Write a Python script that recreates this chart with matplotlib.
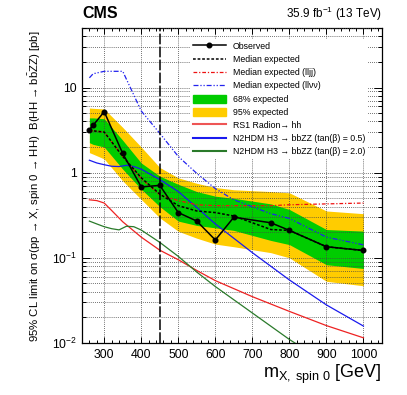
import numpy as np
import matplotlib
matplotlib.use('Agg')
import matplotlib.pyplot as plt
from matplotlib.ticker import FixedLocator, FuncFormatter, MultipleLocator
from matplotlib.patches import Patch
from matplotlib.lines import Line2D

plt.rcParams['font.family'] = ['Liberation Sans', 'DejaVu Sans']
plt.rcParams['mathtext.fontset'] = 'custom'
plt.rcParams['mathtext.rm'] = 'Liberation Sans'
plt.rcParams['mathtext.it'] = 'Liberation Sans:italic'

# limits (pb) vs resonance mass
mass = [260, 270, 300, 350, 400, 450, 500, 550, 600, 650, 750, 800, 900, 1000]
observed = [3.2, 3.6, 5.2, 1.68, 0.68, 0.71, 0.34, 0.27, 0.162, 0.30, 0.258, 0.21, 0.135, 0.122]
expected = [3.1, 3.1, 3.0, 1.55, 0.87, 0.56, 0.41, 0.355, 0.34, 0.31, 0.215, 0.21, 0.135, 0.122]
exp68_up = [4.4, 4.4, 4.3, 2.4, 1.3, 0.91, 0.73, 0.6, 0.53, 0.5, 0.43, 0.37, 0.215, 0.206]
exp68_dn = [2.25, 2.15, 2.0, 1.1, 0.64, 0.40, 0.27, 0.24, 0.225, 0.21, 0.16, 0.143, 0.083, 0.075]
exp95_up = [5.75, 5.7, 5.6, 3.4, 2.0, 1.15, 0.87, 0.75, 0.67, 0.63, 0.6, 0.58, 0.355, 0.33]
exp95_dn = [1.72, 1.65, 1.45, 0.8, 0.485, 0.295, 0.205, 0.17, 0.145, 0.135, 0.115, 0.10, 0.053, 0.047]
exp_lljj = [3.1, 3.1, 3.0, 1.55, 0.85, 0.55, 0.47, 0.42, 0.41, 0.41, 0.41, 0.42, 0.43, 0.44]
exp_llvv = [13, 14.5, 15.5, 15.5, 5.3, 2.9, 1.55, 0.98, 0.65, 0.48, 0.33, 0.29, 0.175, 0.142]

# theory predictions
radion_mass = [260, 280, 300, 320, 350, 400, 450, 500, 550, 600, 700, 800, 900, 1000]
radion_xs = [0.48, 0.47, 0.44, 0.36, 0.265, 0.175, 0.123, 0.095, 0.071, 0.054, 0.035, 0.0235, 0.016, 0.0115]
n2hdm_mass = [260, 280, 300, 320, 340, 360, 380, 400, 450, 500, 550, 600, 700, 800, 900, 1000]
n2hdm_05 = [1.4, 1.3, 1.24, 1.19, 1.18, 1.22, 1.18, 1.1, 0.83, 0.6, 0.39, 0.25, 0.115, 0.055, 0.028, 0.0158]
n2hdm_20 = [0.27, 0.25, 0.232, 0.22, 0.213, 0.235, 0.232, 0.212, 0.152, 0.104, 0.068, 0.046, 0.0225, 0.011, 0.0058, 0.0032]

yellow = '#ffcc00'
green = '#00cc00'

fig = plt.figure(figsize=(4.07, 3.95), dpi=100)
ax = fig.add_axes([82/407, 52/395, 300/407, 315/395])

ax.fill_between(mass, exp95_dn, exp95_up, color=yellow, lw=0, zorder=1)
ax.fill_between(mass, exp68_dn, exp68_up, color=green, lw=0, zorder=1.1)

ax.plot(radion_mass, radion_xs, color='#ee2222', lw=0.9, zorder=3)
ax.plot(n2hdm_mass, n2hdm_05, color='#1a1aee', lw=0.9, zorder=3)
ax.plot(n2hdm_mass, n2hdm_20, color='#2a7a2a', lw=0.9, zorder=3)
ax.plot(mass, exp_lljj, color='#ee1111', lw=0.9, dashes=(3, 1.5, 1, 1.5), zorder=3)
ax.plot(mass, exp_llvv, color='#2222ee', lw=0.9, dashes=(4, 1.5, 1, 1.5, 1, 1.5), zorder=3)
ax.plot(mass, expected, color='black', lw=1.1, dashes=(1.8, 1.2), zorder=3.2)
ax.plot(mass, observed, color='black', lw=1.1, marker='o', ms=3.3, zorder=3.4)
ax.axvline(450, color='black', lw=1.1, dashes=(7, 1.5), zorder=3.5)

ax.set_yscale('log')
ax.set_xlim(240, 1050)
ax.set_ylim(0.01, 50)

ax.xaxis.set_major_locator(FixedLocator([300, 400, 500, 600, 700, 800, 900, 1000]))
ax.xaxis.set_minor_locator(MultipleLocator(20))
ylabels = {0.01: '$10^{-2}$', 0.1: '$10^{-1}$', 1: '1', 10: '10'}
ax.yaxis.set_major_locator(FixedLocator([0.01, 0.1, 1, 10]))
ax.yaxis.set_major_formatter(FuncFormatter(lambda v, p: ylabels.get(round(v, 3), '')))
ax.tick_params(which='both', direction='in', top=True, right=True, labelsize=8.8, width=0.7)
ax.tick_params(which='major', length=6)
ax.tick_params(which='minor', length=3)
ax.tick_params(axis='x', which='major', length=4, pad=4)
ax.tick_params(axis='x', which='minor', length=2)
for s in ax.spines.values():
    s.set_linewidth(0.9)

ax.set_axisbelow(False)
ax.grid(axis='x', which='major', color='#444444', lw=0.6, dashes=(1, 1.5))
ax.grid(axis='y', which='both', color='#444444', lw=0.6, dashes=(1, 1.5))

handles = [
    Line2D([], [], color='black', lw=1.1, marker='o', ms=3.3),
    Line2D([], [], color='black', lw=1.1, dashes=(1.8, 1.2)),
    Line2D([], [], color='#ee1111', lw=0.9, dashes=(3, 1.5, 1, 1.5)),
    Line2D([], [], color='#2222ee', lw=0.9, dashes=(4, 1.5, 1, 1.5, 1, 1.5)),
    Patch(color=green),
    Patch(color=yellow),
    Line2D([], [], color='#ee5555', lw=1.5),
    Line2D([], [], color='#1a1aee', lw=1.5),
    Line2D([], [], color='#2a7a2a', lw=1.5),
]
labels = [
    'Observed',
    'Median expected',
    'Median expected (lljj)',
    'Median expected (ll\u03bd\u03bd)',
    '68% expected',
    '95% expected',
    'RS1 Radion\u2192 hh',
    'N2HDM H3 \u2192 bbZZ (tan(\u03b2) = 0.5)',
    'N2HDM H3 \u2192 bbZZ (tan(\u03b2) = 2.0)',
]
leg = ax.legend(handles, labels, loc='upper left', bbox_to_anchor=(0.345, 0.978),
                fontsize=6.3, handlelength=3.8, handleheight=1.05, handletextpad=0.8,
                labelspacing=0.47, borderpad=0.3, frameon=True, fancybox=False,
                edgecolor='none', facecolor='white', framealpha=1)
leg.set_zorder(10)

fig.text(82/407, 1 - 14/395, 'CMS', fontsize=11.5, fontweight='bold', va='center', ha='left')
fig.text(382/407, 1 - 14/395, '35.9 fb$^{-1}$ (13 TeV)', fontsize=8.5, va='center', ha='right')
fig.text(382/407, 1 - 378/395, r'm$_{\mathrm{X,\ spin\ 0}}$ [GeV]', fontsize=13, ha='right', va='baseline')
fig.text(35/407, 1 - 30/395,
         '95% CL limit on \u03c3(pp \u2192 X, spin 0 \u2192 HH)  B(HH \u2192 b$\\bar{\\mathrm{b}}$ZZ) [pb]',
         fontsize=8.2, rotation=90, ha='center', va='top')

fig.savefig('out.png', dpi=100)
